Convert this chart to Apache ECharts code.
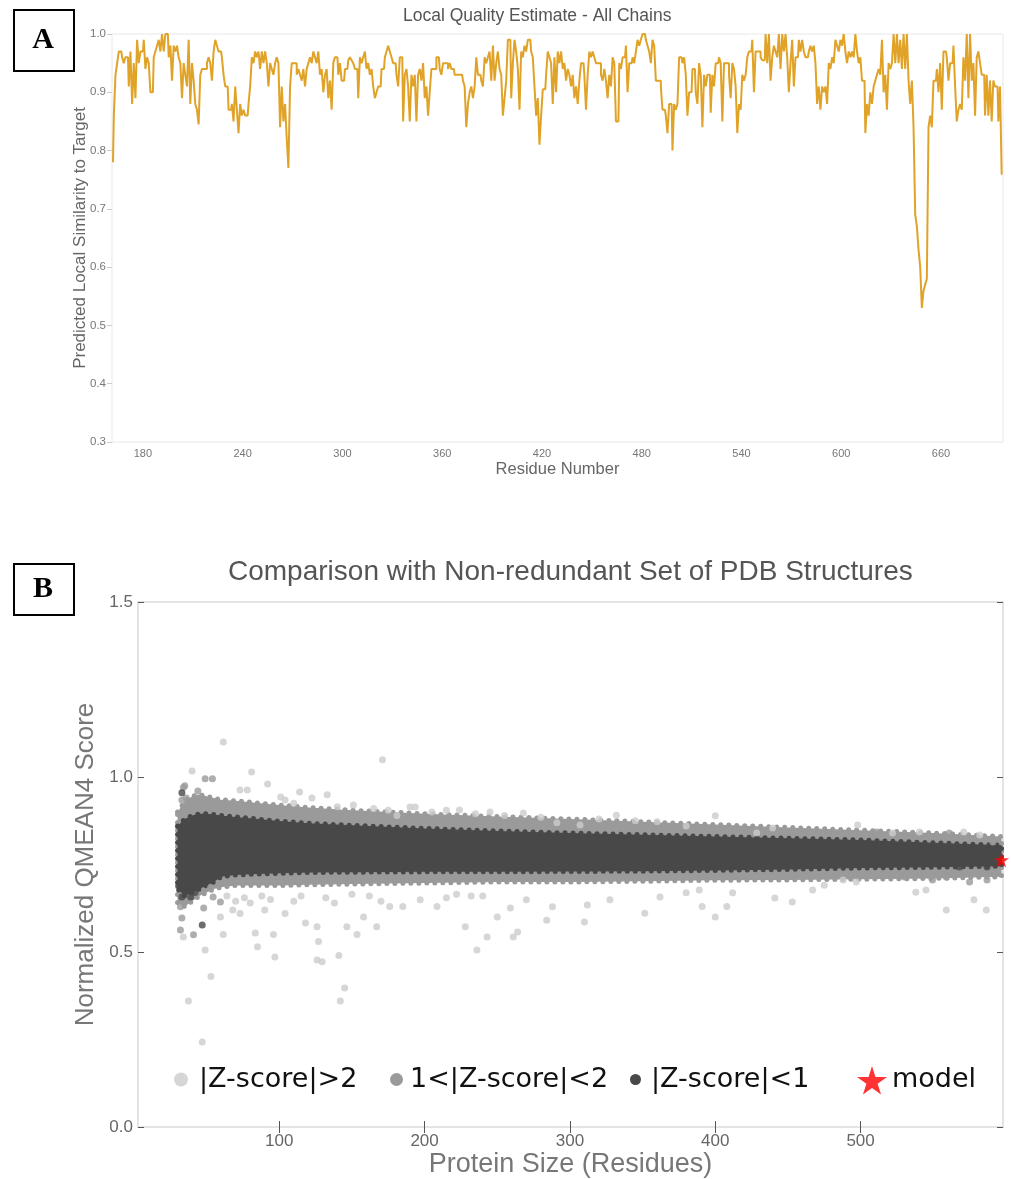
<!DOCTYPE html>
<html>
<head>
<meta charset="utf-8">
<title>Local quality and QMEAN comparison</title>
<script src="https://cdn.jsdelivr.net/npm/echarts@6/dist/echarts.min.js"></script>
<style>
  html, body { margin: 0; padding: 0; background: #fff; }
  #chart { width: 1011px; height: 1179px; }
</style>
</head>
<body>
<div id="chart"></div>
<script>
// ---- panel A : local quality per residue (residues 162..697)
var firstResidue = 162;
var localScore = [
  0.78,0.86,0.93,0.95,0.97,0.97,0.96,0.95,0.96,0.96,
  0.91,0.97,0.88,0.95,0.89,0.99,0.95,0.97,0.97,0.99,
  0.94,0.96,0.95,0.90,0.90,0.96,0.97,0.98,0.99,0.97,
  1.00,0.97,1.00,1.00,0.96,0.98,0.92,0.98,0.97,0.98,
  0.96,0.95,0.89,0.95,0.93,0.91,0.99,0.88,0.95,0.92,
  0.88,0.87,0.845,0.93,0.94,0.94,0.94,0.95,0.96,0.95,
  0.92,0.97,0.99,0.98,0.97,0.97,0.96,0.93,0.91,0.91,
  0.87,0.87,0.88,0.85,0.91,0.87,0.83,0.88,0.86,0.87,
  0.86,0.86,0.88,0.91,0.96,0.95,0.97,0.96,0.97,0.94,
  0.97,0.95,0.97,0.95,0.91,0.95,0.94,0.93,0.95,0.96,
  0.95,0.84,0.91,0.85,0.88,0.82,0.77,0.91,0.95,0.95,
  0.95,0.93,0.94,0.93,0.92,0.94,0.91,0.94,0.95,0.96,
  0.95,0.97,0.96,0.95,0.97,0.93,0.94,0.90,0.93,0.94,
  0.89,0.92,0.87,0.95,0.96,0.96,0.93,
  0.95,0.92,0.92,0.94,0.94,0.955,0.96,0.955,0.95,0.94,
  0.94,0.89,0.96,0.95,0.96,0.97,0.94,0.95,0.93,0.94,
  0.91,0.89,0.90,0.91,0.91,0.94,0.94,0.96,0.97,0.98,
  0.97,0.96,0.95,0.95,0.93,0.91,0.96,0.96,0.85,0.93,
  0.94,0.91,0.85,0.93,0.91,0.93,0.85,0.93,0.94,0.92,
  0.95,0.89,0.91,0.86,0.90,0.94,0.94,0.94,0.96,0.96,
  0.94,0.93,0.95,0.95,0.95,0.94,0.95,0.94,0.94,0.93,
  0.93,0.93,0.93,0.93,0.92,0.91,0.84,0.88,0.90,0.91,
  0.89,0.91,0.96,0.93,0.93,0.92,0.91,0.96,0.95,0.96,
  0.97,0.92,0.98,0.92,0.95,0.97,0.94,0.93,0.86,0.89,
  0.92,0.99,0.99,0.89,0.95,0.99,0.97,0.94,0.87,0.97,
  0.96,0.98,0.97,0.99,0.99,0.97,0.96,0.91,0.86,0.89,
  0.81,0.86,0.905,0.905,0.93,0.97,0.96,0.95,0.88,0.96,
  0.90,0.97,0.95,0.97,0.94,0.95,0.92,0.94,0.93,0.91,
  0.93,0.89,0.91,0.88,0.92,0.95,0.95,0.93,0.87,0.93,
  0.97,0.96,0.97,0.96,0.95,0.95,0.95,0.93,0.92,0.94,
  0.92,0.89,0.93,0.91,0.96,0.95,0.85,0.85,0.95,0.94,
  0.96,0.96,0.98,0.90,0.95,0.95,0.96,0.95,0.97,0.99,
  0.98,0.99,1.00,1.00,0.99,0.98,0.97,0.95,0.99,0.98,
  0.92,0.92,0.92,0.91,0.87,0.87,0.86,0.83,
  0.88,0.88,0.80,0.88,0.87,0.88,0.96,0.96,0.95,0.96,
  0.93,0.86,0.90,0.90,0.94,0.94,0.90,0.88,0.95,0.93,
  0.84,0.93,0.91,0.93,0.93,0.865,0.93,0.91,0.95,0.95,
  0.96,0.95,0.85,0.95,0.95,0.95,0.93,0.89,0.95,0.94,
  0.91,0.83,0.88,0.87,0.93,0.92,0.93,0.96,0.97,0.97,
  0.99,0.90,0.97,0.97,0.97,0.96,0.955,0.955,1.00,0.95,
  1.00,0.92,0.96,0.98,0.97,0.96,1.00,0.94,1.00,0.97,
  1.00,0.96,0.90,0.95,0.99,0.91,0.96,0.96,0.99,0.97,
  0.99,0.97,0.96,0.96,0.97,0.98,0.97,0.98,0.95,0.88,
  0.91,0.87,0.91,0.90,0.91,0.88,0.95,0.94,0.96,0.95,
  0.99,0.98,0.97,0.99,0.98,1.00,0.97,0.95,0.97,0.96,
  0.97,0.96,1.00,0.97,0.95,0.96,0.92,0.92,0.83,0.88,
  0.86,0.90,0.88,0.91,0.92,0.93,0.94,0.93,0.99,0.90,
  0.93,0.87,0.95,0.94,0.95,1.00,0.95,1.00,0.95,0.99,
  0.94,1.00,0.94,1.00,0.92,0.88,0.92,0.84,0.69,0.67,
  0.63,0.60,0.53,0.56,0.57,0.58,0.84,0.86,0.84,0.92,
  0.92,0.94,0.90,0.95,0.87,0.97,0.97,0.96,0.92,0.95,
  0.95,0.98,0.91,0.85,0.87,0.88,0.87,0.96,0.92,1.00,
  0.89,1.00,0.92,0.95,0.86,0.96,0.97,0.95,0.93,0.93,
  0.86,0.93,0.86,0.92,0.85,0.92,0.91,0.91,0.85,0.91,0.76
];
var residueTicks = [180, 240, 300, 360, 420, 480, 540, 600, 660];

// ---- panel B : QMEAN4 vs protein size
var sizeTicks = [100, 200, 300, 400, 500];
// dense bands (lower / upper edge of the packed point clouds)
var bandX  = [30, 35, 40, 45, 50, 55, 60, 70, 80, 100, 120, 150, 200, 250, 300, 350, 400, 450, 500, 550, 597];
var darkLo = [0.68,0.66,0.67,0.68,0.69,0.70,0.715,0.72,0.722,0.725,0.727,0.728,0.729,0.729,0.73,0.731,0.733,0.736,0.74,0.742,0.745];
var darkHi = [0.86,0.88,0.89,0.895,0.895,0.893,0.89,0.886,0.882,0.874,0.868,0.862,0.853,0.846,0.84,0.835,0.83,0.825,0.82,0.812,0.805];
var midLo  = [0.64,0.63,0.645,0.66,0.67,0.68,0.685,0.69,0.69,0.69,0.692,0.694,0.697,0.70,0.70,0.702,0.705,0.706,0.708,0.71,0.715];
var midHi  = [0.90,0.93,0.945,0.95,0.945,0.94,0.935,0.932,0.928,0.92,0.913,0.905,0.895,0.887,0.88,0.872,0.864,0.856,0.848,0.84,0.83];

var outlierPts = [
  [34,0.543],[37.5,0.36],[47,0.243],[49,0.506],[53,0.43],[61.5,0.55],[59.5,0.60],[68,0.62],[73,0.61],
  [83.5,0.554],[85,0.515],[90,0.62],[96,0.55],[97,0.486],[104,0.61],[118,0.583],[126,0.572],[127,0.53],
  [126,0.477],[129.5,0.472],[141,0.49],[142,0.36],[145,0.397],[146.5,0.572],[153.5,0.55],[158,0.60],
  [167,0.572],[185,0.63],[197,0.649],[208.5,0.63],[228,0.572],[236,0.506],[243,0.543],[250,0.60],
  [261,0.543],[264,0.557],[284,0.591],[310,0.586],[288,0.629],[312,0.634],[351.5,0.611],[400,0.60],
  [391,0.63],[408,0.63],[441,0.654],[453,0.643],[559,0.62],[586.5,0.62],[578,0.649],[538,0.671],
  [259,0.626],[270,0.649],[327.5,0.649],[362,0.657],[380,0.669],[389,0.677],[412,0.669],[467,0.677],
  [475,0.691],[488,0.706],[497,0.70],[545,0.677],
  [64,0.66],[70,0.645],[76,0.655],[80,0.64],[88,0.66],[94,0.65],[110,0.645],[115,0.66],[132,0.655],
  [138,0.64],[150,0.665],[162,0.66],[170,0.645],[176,0.63],[215,0.655],[222,0.665],[232,0.66],[240,0.66],
  [61.5,1.10],[40,1.017],[81,1.014],[171,1.049],[73,0.963],[78,0.963],[92,0.98],[104,0.934],[114,0.957],
  [122.5,0.94],[133,0.949],[101,0.943],[151,0.92],[165,0.91],[190,0.914],[193.5,0.914],[224,0.906],
  [181,0.89],[268,0.897],[332,0.891],[400,0.889],[498,0.863],[571,0.843],[582,0.834],[540.5,0.843],
  [522,0.84],[439.5,0.854],[428.5,0.84],[380,0.86],[307,0.863],[291,0.869],
  [110,0.925],[140,0.915],[175,0.905],[205,0.90],[215,0.905],[235,0.895],[245,0.90],[255,0.89],
  [280,0.885],[320,0.88],[345,0.875],[360,0.872]
];
var midPts = [
  [32,0.629],[33,0.597],[32,0.563],[41,0.549],[48,0.626],[54.5,0.657],[59.5,0.643],[52.6,0.683],
  [33,0.934],[36,0.94],[49,0.995],[54,0.995],[34,0.97],[35,0.975],[44,0.96],
  [559,0.714],[575,0.70],[587,0.706],[549.5,0.706],[530,0.714],[561,0.84],[591,0.814],[511,0.843],[547,0.829]
];
var darkPts = [
  [33,0.657],[39,0.657],[47,0.577],[35,0.68],[31,0.69],[42,0.67],[33,0.955],
  [568,0.743],[587,0.743],[577,0.754],[527,0.749],[549.5,0.791],[563,0.794]
];
var modelPt = [[597, 0.763]];

var starPath = 'path://M50,0 L61,35 L98,35 L68,57 L79,91 L50,70 L21,91 L32,57 L2,35 L39,35 Z';
var sans = '"Liberation Sans", Arial, sans-serif';

var myChart = echarts.init(document.getElementById('chart'));

function bandSeries(name, lo, hi, color) {
  return {
    name: name,
    type: 'custom',
    xAxisIndex: 1,
    yAxisIndex: 1,
    silent: true,
    itemStyle: { color: color },
    encode: { x: 0, y: [1, 2] },
    data: bandX.map(function (x, i) { return [x, lo[i], hi[i]]; }),
    renderItem: function (params, api) {
      if (params.dataIndex !== 0) return;
      var pts = [];
      for (var i = 0; i < bandX.length; i++) pts.push(api.coord([bandX[i], hi[i]]));
      for (var j = bandX.length - 1; j >= 0; j--) pts.push(api.coord([bandX[j], lo[j]]));
      return {
        type: 'polygon',
        shape: { points: pts },
        style: { fill: color, stroke: color, lineWidth: 5, lineDash: [0, 8], lineCap: 'round' }
      };
    }
  };
}

function legendItem(name, icon, left, size, gap) {
  return {
    data: [{ name: name, icon: icon }],
    left: left,
    top: 1066,
    itemWidth: size,
    itemHeight: size,
    selectedMode: false,
    padding: 0,
    textStyle: { fontFamily: '"DejaVu Sans", sans-serif', fontSize: 27, color: '#111', padding: [0, 0, 0, gap] }
  };
}

var option = {
  backgroundColor: '#fff',
  animation: false,
  title: [
    { text: 'Local Quality Estimate - All Chains', left: 403, top: 7, padding: 0,
      textStyle: { fontFamily: sans, fontSize: 17.5, fontWeight: 'normal', color: '#555' } },
    { text: 'Comparison with Non-redundant Set of PDB Structures', left: 228, top: 558, padding: 0,
      textStyle: { fontFamily: sans, fontSize: 28, fontWeight: 'normal', color: '#555' } }
  ],
  graphic: [
    { type: 'rect', left: 13, top: 9, shape: { width: 60, height: 61 },
      style: { fill: '#fff', stroke: '#000', lineWidth: 2 } },
    { type: 'text', x: 43, y: 40,
      style: { text: 'A', font: 'bold 30px "Liberation Serif", "Times New Roman", serif',
        fill: '#000', align: 'center', verticalAlign: 'middle', textAlign: 'center', textVerticalAlign: 'middle' } },
    { type: 'rect', left: 13, top: 563, shape: { width: 60, height: 51 },
      style: { fill: '#fff', stroke: '#000', lineWidth: 2 } },
    { type: 'text', x: 43, y: 589,
      style: { text: 'B', font: 'bold 30px "Liberation Serif", "Times New Roman", serif',
        fill: '#000', align: 'center', verticalAlign: 'middle', textAlign: 'center', textVerticalAlign: 'middle' } }
  ],
  legend: [
    legendItem('|Z-score|>2', 'circle', 174, 14, 6),
    legendItem('1<|Z-score|<2', 'circle', 390, 13, 2),
    legendItem('|Z-score|<1', 'circle', 630, 11, 5),
    legendItem('model', starPath, 857, 30, 0)
  ],
  grid: [
    { left: 112, top: 34, width: 891, height: 408, show: true, borderColor: '#e8e8e8', borderWidth: 1 },
    { left: 138, top: 602, width: 865, height: 526, show: true, borderColor: '#e4e4e4', borderWidth: 2 }
  ],
  xAxis: [
    {
      gridIndex: 0, type: 'value', min: 161.4, max: 697.3,
      name: 'Residue Number', nameLocation: 'middle', nameGap: 19,
      nameTextStyle: { fontFamily: sans, fontSize: 16.5, color: '#666' },
      axisLine: { show: false },
      axisTick: { show: false },
      splitLine: { show: false },
      axisLabel: { customValues: residueTicks, fontFamily: sans, fontSize: 11, color: '#777', margin: 6 }
    },
    {
      gridIndex: 1, type: 'value', min: 2.8, max: 598,
      name: 'Protein Size (Residues)', nameLocation: 'middle', nameGap: 24,
      nameTextStyle: { fontFamily: sans, fontSize: 27, color: '#777' },
      axisLine: { show: false },
      axisTick: { inside: true, length: 6, customValues: sizeTicks, lineStyle: { color: '#555' } },
      splitLine: { show: false },
      axisLabel: { customValues: sizeTicks, fontFamily: sans, fontSize: 17, color: '#666', margin: 6 }
    },
    {
      gridIndex: 1, type: 'value', position: 'top', min: 2.8, max: 598,
      axisLine: { show: false },
      axisTick: { inside: true, length: 6, customValues: sizeTicks, lineStyle: { color: '#555' } },
      splitLine: { show: false },
      axisLabel: { show: false }
    }
  ],
  yAxis: [
    {
      gridIndex: 0, type: 'value', min: 0.3, max: 1.0, interval: 0.1,
      name: 'Predicted Local Similarity to Target', nameLocation: 'middle', nameGap: 23,
      nameMoveOverlap: false,
      nameTextStyle: { fontFamily: sans, fontSize: 17, color: '#666' },
      axisLine: { show: false },
      axisTick: { show: true, length: 5, lineStyle: { color: '#ccc' } },
      splitLine: { show: false },
      axisLabel: { fontFamily: sans, fontSize: 11.5, color: '#777', margin: 6,
        formatter: function (v) { return v.toFixed(1); } }
    },
    {
      gridIndex: 1, type: 'value', min: 0, max: 1.5, interval: 0.5,
      name: 'Normalized QMEAN4 Score', nameLocation: 'middle', nameGap: 38,
      nameTextStyle: { fontFamily: sans, fontSize: 26, color: '#777' },
      axisLine: { show: false },
      axisTick: { inside: true, length: 6, lineStyle: { color: '#555' } },
      splitLine: { show: false },
      axisLabel: { fontFamily: sans, fontSize: 17, color: '#666', margin: 5,
        formatter: function (v) { return v.toFixed(1); } }
    },
    {
      gridIndex: 1, type: 'value', position: 'right', min: 0, max: 1.5, interval: 0.5,
      axisLine: { show: false },
      axisTick: { inside: true, length: 6, lineStyle: { color: '#555' } },
      splitLine: { show: false },
      axisLabel: { show: false }
    }
  ],
  series: [
    {
      name: 'All Chains',
      type: 'line',
      xAxisIndex: 0, yAxisIndex: 0,
      step: 'middle',
      symbol: 'none',
      data: localScore.map(function (v, i) { return [firstResidue + i, v]; }),
      lineStyle: { color: '#E0A328', width: 2 },
      itemStyle: { color: '#E0A328' }
    },
    {
      name: '|Z-score|>2', type: 'scatter', xAxisIndex: 1, yAxisIndex: 1,
      symbolSize: 7, data: outlierPts, itemStyle: { color: '#cccccc' }
    },
    bandSeries('1<|Z-score|<2', midLo, midHi, '#9a9a9a'),
    {
      name: '1<|Z-score|<2', type: 'scatter', xAxisIndex: 1, yAxisIndex: 1,
      symbolSize: 7, data: midPts, itemStyle: { color: '#9a9a9a' }
    },
    bandSeries('|Z-score|<1', darkLo, darkHi, '#484848'),
    {
      name: '|Z-score|<1', type: 'scatter', xAxisIndex: 1, yAxisIndex: 1,
      symbolSize: 7, data: darkPts, itemStyle: { color: '#484848' }
    },
    {
      name: 'model', type: 'scatter', xAxisIndex: 1, yAxisIndex: 1,
      symbol: starPath, symbolSize: 15, data: modelPt, itemStyle: { color: '#ff0000' }
    }
  ]
};

myChart.setOption(option);
</script>
</body>
</html>
